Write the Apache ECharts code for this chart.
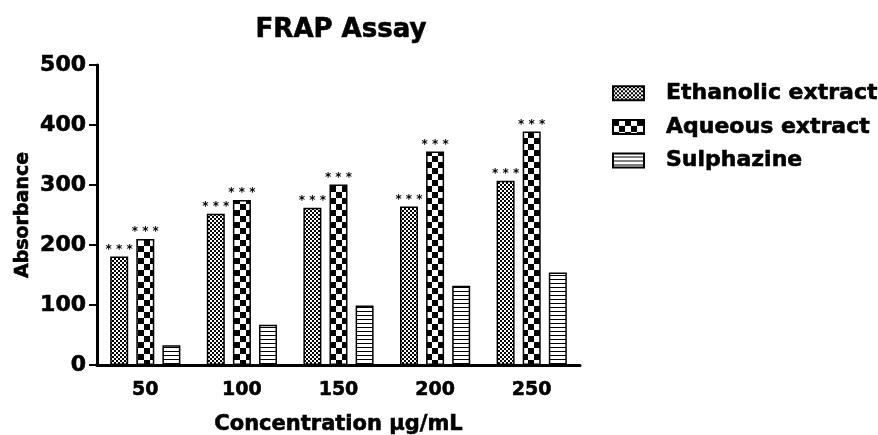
<!DOCTYPE html>
<html>
<head>
<meta charset="utf-8">
<script src="https://cdn.jsdelivr.net/npm/echarts@6/dist/echarts.min.js"></script>
<style>
html,body{margin:0;padding:0;background:#fff;}
#chart{width:878px;height:435px;}
</style>
</head>
<body>
<div id="chart"></div>
<script>
var categories = ['50', '100', '150', '200', '250'];
var ethanolic = [181, 252, 262, 264, 307];
var aqueous = [210, 275, 301, 356, 389];
var sulphazine = [33, 67, 99, 132, 154];
var seriesNames = ['Ethanolic extract', 'Aqueous extract', 'Sulphazine'];
var yTicks = [0, 100, 200, 300, 400, 500];

function makeChecker(cell) {
  var c = document.createElement('canvas');
  c.width = cell * 2; c.height = cell * 2;
  var g = c.getContext('2d');
  g.fillStyle = '#fff'; g.fillRect(0, 0, c.width, c.height);
  g.fillStyle = '#000';
  g.fillRect(0, 0, cell, cell);
  g.fillRect(cell, cell, cell, cell);
  return c;
}
function makeLines(step) {
  var c = document.createElement('canvas');
  c.width = 8; c.height = step;
  var g = c.getContext('2d');
  g.fillStyle = '#fff'; g.fillRect(0, 0, c.width, c.height);
  g.fillStyle = '#000';
  g.fillRect(0, step - 1, c.width, 1);
  return c;
}
var patEth = {image: makeChecker(2), repeat: 'repeat'};
var patAq = {image: makeChecker(6), repeat: 'repeat'};
var patSul = {image: makeLines(4), repeat: 'repeat'};

function heavy(size) {
  return {fontFamily: 'DejaVu Sans', fontWeight: 'bold', fontSize: size, color: '#000',
    textBorderColor: '#000', textBorderWidth: 0.6};
}

var chart = echarts.init(document.getElementById('chart'));
function starLabel(show) {
  return {
    show: show, position: 'top', distance: 1, formatter: '* * *',
    fontFamily: 'DejaVu Sans', fontWeight: 'bold', fontSize: 12, color: '#000'
  };
}
var option = {
  animation: false,
  backgroundColor: '#fff',
  title: {
    text: 'FRAP Assay', left: 336, top: 12, textAlign: 'center',
    textStyle: heavy(26)
  },
  legend: {
    orient: 'vertical', left: 612, top: 82, padding: 0, itemWidth: 31, itemHeight: 14, itemGap: 11,
    icon: 'rect',
    data: seriesNames,
    textStyle: Object.assign(heavy(22), {padding: [0, 0, 0, 17]})
  },
  grid: {left: 97, right: 298, top: 65, bottom: 70, containLabel: false, outerBoundsMode: 'none'},
  xAxis: {
    type: 'category', data: categories,
    name: 'Concentration μg/mL', nameLocation: 'middle', nameGap: 49, nameMoveOverlap: false,
    nameTextStyle: heavy(21),
    axisLine: {lineStyle: {color: '#000', width: 3}},
    axisTick: {alignWithLabel: true, length: 8, lineStyle: {color: '#000', width: 2}},
    axisLabel: Object.assign(heavy(19), {margin: 16})
  },
  yAxis: {
    type: 'value', min: 0, max: 500, interval: 100,
    name: 'Absorbance', nameLocation: 'middle', nameGap: 64, nameMoveOverlap: false,
    nameTextStyle: heavy(19),
    axisLine: {show: true, lineStyle: {color: '#000', width: 3}},
    axisTick: {show: true, length: 8, lineStyle: {color: '#000', width: 2}},
    axisLabel: Object.assign(heavy(22), {margin: 11, formatter: function (v) { return yTicks.indexOf(v) >= 0 ? String(v) : ''; }}),
    splitLine: {show: false}
  },
  series: [
    {name: seriesNames[0], type: 'bar', data: ethanolic, barWidth: 18, barGap: '45%',
      itemStyle: {color: patEth, borderColor: '#000', borderWidth: 1.5}, label: starLabel(true)},
    {name: seriesNames[1], type: 'bar', data: aqueous, barWidth: 18, barGap: '45%',
      itemStyle: {color: patAq, borderColor: '#000', borderWidth: 1.5}, label: starLabel(true)},
    {name: seriesNames[2], type: 'bar', data: sulphazine, barWidth: 18, barGap: '45%',
      itemStyle: {color: patSul, borderColor: '#000', borderWidth: 1.5}, label: starLabel(false)}
  ]
};
chart.setOption(option);
</script>
</body>
</html>
